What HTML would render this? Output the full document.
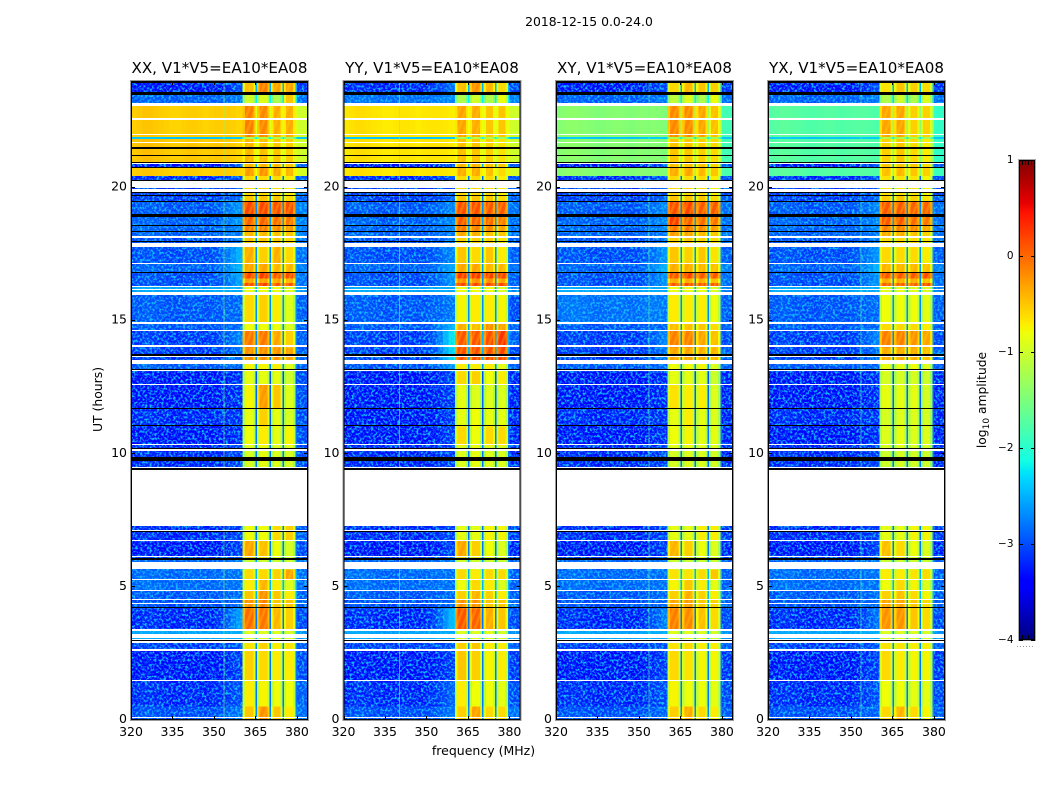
<!DOCTYPE html>
<html><head><meta charset="utf-8">
<style>
html,body{margin:0;padding:0;background:#fff}
svg{display:block}
text{font-family:"DejaVu Sans","Liberation Sans",sans-serif;fill:#000}
</style></head>
<body>
<svg id="chart" xmlns="http://www.w3.org/2000/svg" width="1050" height="800" viewBox="0 0 1050 800">
<defs>
<filter id="speckle" x="0" y="0" width="1" height="1" color-interpolation-filters="sRGB">
<feTurbulence type="fractalNoise" baseFrequency="0.42" numOctaves="2" seed="7" result="n"/>
<feColorMatrix in="n" type="matrix" values="0 0 0 0 0.08  0 0 0 0 0.75  0 0 0 0 1  3.6 0 0 0 -1.6" result="s"/>
<feComposite in="s" in2="SourceGraphic" operator="in"/>
</filter>
<pattern id="hatch" width="6" height="6" patternUnits="userSpaceOnUse" patternTransform="rotate(20)">
<rect width="2.5" height="6" fill="#ffe600" opacity="0.25"/>
</pattern>
</defs>
<text x="589" y="26" font-size="12.4" text-anchor="middle">2018-12-15 0.0-24.0</text>
<text x="483.5" y="755" font-size="12.5" text-anchor="middle">frequency (MHz)</text>
<text x="102" y="399.5" font-size="12.4" text-anchor="middle" transform="rotate(-90 102 399.5)">UT (hours)</text>
<text x="986" y="400" font-size="12.3" text-anchor="middle" transform="rotate(-90 986 400)">log<tspan font-size="9" dy="3">10</tspan><tspan dy="-3"> amplitude</tspan></text>
<g id="panels"></g>
<g id="colorbar"></g>
</svg>
<script>
/* ---- chart data ---- */
const panelTitles = ["XX, V1*V5=EA10*EA08","YY, V1*V5=EA10*EA08","XY, V1*V5=EA10*EA08","YX, V1*V5=EA10*EA08"];
const xTicks = [320,335,350,365,380];
const yTicks = [0,5,10,15,20];
const colorbarTicks = [1,0,-1,-2,-3,-4];

/* observation rows, UT hours */
const rowStartUT = [0,0.5,1.47,2.6,2.95,3.35,4.19,4.52,4.86,5.27,5.65,6.1,6.73,9.39,10.1,10.31,11.02,11.7,12.6,13.09,13.5,14,14.62,14.93,15.98,16.3,16.42,16.58,16.78,17.16,17.8,18.12,18.34,18.59,19,19.49,19.72,20.32,20.43,20.75,20.92,21.82,21.9,23.06,23.49];
const rowEndUT   = [0.5,1.47,2.6,2.95,3.35,4.19,4.52,4.86,5.27,5.65,6.1,6.73,7.29,10.1,10.31,11.02,11.7,12.6,13.09,13.5,14,14.62,14.93,15.98,16.3,16.42,16.58,16.78,17.16,17.8,18.12,18.34,18.59,19,19.49,19.72,20.32,20.43,20.75,20.92,21.82,21.9,23.06,23.49,24];

/* log10 amplitude per row: background, roll-off, band1, band gap, band2, band3, band4, tail */
const levelsXX = [
[-3.1,-2.8,-.5,-2.7,-.2,-.5,-.7,-2.9],[-3.3,-3,-.7,-2.8,-.75,-.8,-.8,-3],[-3.4,-3.1,-.55,-2.8,-.6,-.7,-.7,-3.1],
[-3.2,-3,-.65,-2.7,-.55,-.7,-.65,-3],[-2.6,-2.5,-.9,-2.5,-.9,-.9,-.95,-2.7],[-3.3,-2.5,0,-2.8,-.05,-.4,-.55,-3.1],
[-3.1,-2.9,-.2,-2.6,-.1,-.5,-.5,-3],[-3.05,-2.9,-.5,-2.5,-.2,-.5,-.7,-3],[-2.95,-2.85,-.7,-2.5,-.4,-.7,-.9,-2.9],
[-2.95,-2.85,-.6,-2.5,-.6,-.55,-.3,-2.9],[-3,-2.8,-1,-2.6,-1,-1,-1,-2.9],[-3.4,-3.1,-.3,-2.8,-.45,-.8,-.95,-3.1],
[-3.3,-3.1,-.8,-2.8,-.8,-.6,-.55,-3],[-3.3,-3.1,-.95,-2.8,-.85,-.9,-.95,-3.1],[-3.3,-3.1,-.9,-2.8,-.85,-.9,-.9,-3.1],
[-3.4,-3.2,-.8,-2.8,-.7,-.85,-.75,-3.1],[-3.3,-3.2,-.85,-2.9,-.55,-.85,-.95,-3.1],[-3.4,-3.2,-.75,-2.9,-.25,-.5,-.9,-3.1],
[-3.4,-3.2,-.85,-3,-.85,-.85,-1,-3.1],[-3.05,-2.9,-.75,-2.7,-.75,-.7,-.9,-3],[-3.2,-2.8,-.2,-2.7,-.2,-.2,-.3,-3],
[-3.2,-2.7,-.05,-2.7,-.05,-.3,-.55,-3],[-3.05,-2.9,-.8,-2.7,-.8,-.8,-.9,-3],[-3.05,-2.9,-.6,-2.7,-.55,-.7,-.9,-3],
[-2.6,-2.5,-.8,-2.5,-.8,-.8,-.9,-2.7],[-3.1,-2.5,.15,-2.7,.25,.1,.1,-2.9],[-3.1,-2.5,-.3,-2.7,-.3,-.3,-.4,-2.9],
[-3.1,-2.5,.2,-2.7,.25,.1,.15,-2.9],[-3,-2.4,-.3,-2.6,-.3,-.4,-.4,-2.8],[-3.1,-2.4,-.35,-2.7,-.55,-.35,-.6,-2.9],
[-3.1,-2.8,-.5,-2.7,-.5,-.5,-.6,-2.9],[-3,-2.8,-.4,-2.6,-.4,-.45,-.5,-2.8],[-3,-2.7,-.1,-2.6,-.1,-.15,-.25,-2.8],
[-3,-2.6,.05,-2.6,.05,0,-.05,-2.8],[-3.05,-2.6,.2,-2.7,.2,.15,.15,-2.8],[-3.2,-2.9,-.5,-2.8,-.5,-.5,-.6,-3],
[-3.2,-3,-.6,-2.8,-.6,-.6,-.7,-3],[-3.3,-3,-.6,-2.9,-.6,-.6,-.7,-3],[-.55,-.55,-.25,-.8,-.2,-.3,-.4,-.95],
[-3.4,-2.9,-.4,-2.5,-.4,-.4,-.5,-3],[-.52,-.55,-.4,-.9,-.45,-.5,-.55,-1],[-2.4,-2.3,-1.2,-2.2,-1.2,-1.2,-1.3,-2.4],
[-.55,-.55,-.1,-.9,-.15,-.35,-.35,-1],[-3,-2.8,-1,-2.2,-.9,-1.2,-.5,-2.9],[-3.4,-3,-.45,-2.5,-.1,-.3,-.3,-3.2]];

const levelsYY = [
[-3.1,-2.8,-.55,-2.7,-.3,-.6,-.6,-2.9],[-3.3,-2.9,-.7,-2.8,-.8,-.8,-.85,-3.1],[-3.4,-3.1,-.5,-2.8,-.55,-.75,-.7,-3.2],
[-3.2,-3,-.55,-2.7,-.5,-.7,-.7,-3],[-2.6,-2.5,-.9,-2.5,-.9,-.9,-.95,-2.7],[-3.3,-2.3,.12,-2.8,.05,-.35,-.5,-3.1],
[-3.1,-2.9,-.2,-2.6,-.2,-.5,-.5,-3],[-3.05,-2.9,-.55,-2.5,-.4,-.55,-.7,-3],[-2.95,-2.85,-.8,-2.5,-.6,-.7,-.9,-3],
[-2.95,-2.85,-.6,-2.5,-.7,-.6,-.6,-3],[-3,-2.8,-1,-2.6,-1,-1,-1,-3],[-3.4,-3.1,-.3,-2.8,-.55,-.8,-.9,-3.3],
[-3.3,-3.1,-.85,-2.8,-.85,-.75,-.75,-3.2],[-3.3,-3.1,-.9,-2.8,-.85,-.9,-.9,-3.3],[-3.3,-3.1,-.9,-2.8,-.85,-.9,-.9,-3.3],
[-3.4,-3.1,-.6,-2.8,-.8,-.6,-.6,-3.3],[-3.4,-3.1,-.85,-2.9,-.8,-.85,-.85,-3.3],[-3.4,-3.1,-.85,-2.9,-.9,-.9,-.9,-3.3],
[-3.4,-3.1,-.6,-3,-.55,-.8,-.7,-3.3],[-3.1,-2.6,-.7,-2.7,-.7,-.7,-.85,-3],[-3.2,-2.1,.15,-2.5,.15,.15,.2,-3.1],
[-3.2,-2,.12,-2.5,.12,.15,.3,-3],[-3.05,-2.4,-.35,-2.6,-.45,-.2,-.3,-3],[-3.05,-2.8,-.75,-2.7,-.7,-.7,-.75,-3.1],
[-2.6,-2.5,-.8,-2.5,-.8,-.8,-.9,-2.8],[-3.1,-2.6,.2,-2.7,.2,.2,.2,-3],[-3.1,-2.6,-.2,-2.7,-.2,-.2,-.3,-3],
[-3.1,-2.6,.25,-2.7,.25,.2,.2,-3],[-3,-2.5,-.3,-2.6,-.3,-.4,-.4,-2.9],[-3.1,-2.7,-.5,-2.7,-.6,-.5,-.7,-3],
[-3.1,-2.8,-.55,-2.7,-.55,-.55,-.65,-3],[-3,-2.8,-.3,-2.6,-.35,-.45,-.5,-2.9],[-3,-2.7,-.05,-2.6,-.1,-.15,-.3,-2.9],
[-3,-2.7,.1,-2.6,.05,0,-.1,-2.9],[-3.05,-2.7,.15,-2.7,.15,.1,.1,-2.9],[-3.2,-2.9,-.5,-2.8,-.5,-.5,-.6,-3],
[-3.2,-3,-.6,-2.8,-.6,-.6,-.7,-3],[-3.3,-3,-.6,-2.9,-.6,-.6,-.7,-3.1],[-.68,-.68,-.35,-.75,-.35,-.45,-.6,-.95],
[-3.4,-2.9,-.4,-2.5,-.4,-.45,-.5,-3],[-.68,-.68,-.45,-.8,-.5,-.55,-.65,-1],[-2.4,-2.3,-1.2,-2.2,-1.2,-1.2,-1.3,-2.4],
[-.68,-.68,-.3,-.8,-.35,-.5,-.5,-1],[-2.9,-2.7,-1.2,-2.2,-1,-1.2,-.8,-2.8],[-3.3,-2.8,-.45,-2.5,-.2,-.4,-.6,-3.1]];

const levelsXY = [
[-3.1,-2.9,-.55,-2.7,-.35,-.6,-.7,-3],[-3.3,-3,-.75,-2.8,-.8,-.8,-.85,-3.1],[-3.4,-3.1,-.6,-2.8,-.65,-.75,-.75,-3.2],
[-3.2,-3,-.65,-2.7,-.6,-.7,-.7,-3],[-2.6,-2.5,-.9,-2.5,-.9,-.9,-.95,-2.7],[-3.3,-2.7,-.1,-2.8,-.15,-.45,-.6,-3.1],
[-3.1,-2.9,-.3,-2.6,-.25,-.5,-.55,-3],[-3.05,-2.9,-.55,-2.5,-.35,-.55,-.7,-3],[-2.95,-2.85,-.75,-2.5,-.5,-.7,-.85,-3],
[-2.95,-2.85,-.65,-2.5,-.65,-.6,-.5,-3],[-3,-2.8,-1,-2.6,-1,-1,-1,-3],[-3.4,-3.1,-.4,-2.8,-.55,-.8,-.9,-3.3],
[-3.3,-3.1,-.85,-2.8,-.85,-.7,-.7,-3.2],[-3.3,-3.1,-.95,-2.8,-.9,-.9,-.95,-3.3],[-3.3,-3.1,-.9,-2.8,-.85,-.9,-.9,-3.3],
[-3.4,-3.2,-.8,-2.8,-.75,-.85,-.85,-3.3],[-3.3,-3.2,-.85,-2.9,-.7,-.85,-.9,-3.3],[-3.4,-3.2,-.65,-2.9,-.7,-.7,-.9,-3.3],
[-3.4,-3.2,-.85,-3,-.85,-.85,-1,-3.3],[-3.05,-2.9,-.8,-2.7,-.8,-.75,-.9,-3],[-3.2,-2.8,-.3,-2.7,-.3,-.35,-.4,-3],
[-3.2,-2.7,-.1,-2.7,-.1,-.3,-.45,-3.1],[-3.05,-2.9,-.45,-2.7,-.45,-.5,-.6,-3],[-2.9,-2.8,-.7,-2.7,-.7,-.7,-.8,-3],
[-2.6,-2.5,-.8,-2.5,-.8,-.8,-.9,-2.8],[-3.1,-2.6,.1,-2.7,.15,.1,.1,-2.9],[-3.1,-2.6,-.35,-2.7,-.35,-.35,-.45,-2.9],
[-3.1,-2.6,.1,-2.7,.2,.1,.1,-2.9],[-3,-2.4,-.35,-2.6,-.35,-.4,-.45,-2.8],[-3.1,-2.6,-.5,-2.7,-.55,-.5,-.65,-3],
[-3.1,-2.8,-.55,-2.7,-.5,-.55,-.6,-2.9],[-3,-2.8,-.25,-2.6,-.3,-.4,-.5,-2.9],[-3,-2.7,-.05,-2.6,-.05,-.15,-.25,-2.9],
[-3,-2.7,.25,-2.6,.05,0,-.05,-2.9],[-3.05,-2.7,.15,-2.7,.2,.1,.1,-2.9],[-3.2,-2.9,-.5,-2.8,-.5,-.5,-.6,-3],
[-3.2,-3,-.6,-2.8,-.6,-.6,-.7,-3.1],[-3.3,-3,-.6,-2.9,-.6,-.6,-.7,-3.1],[-1.45,-1.45,-.35,-1.3,-.3,-.4,-.5,-1.8],
[-3.4,-2.9,-.45,-2.5,-.45,-.45,-.55,-3],[-1.45,-1.45,-.5,-1.3,-.5,-.55,-.6,-1.85],[-2.4,-2.3,-1.2,-2.2,-1.2,-1.2,-1.3,-2.4],
[-1.45,-1.45,-.15,-1.3,-.15,-.3,-.45,-1.85],[-3,-2.8,-1.1,-2.2,-.9,-1.2,-.8,-2.9],[-3.4,-3,-.6,-2.5,-.4,-.5,-.55,-3.2]];

const levelsYX = [
[-3.1,-2.9,-.6,-2.7,-.4,-.6,-.75,-3],[-3.3,-3,-.8,-2.8,-.8,-.85,-.85,-3.1],[-3.4,-3.1,-.6,-2.8,-.7,-.75,-.75,-3.2],
[-3.2,-3,-.65,-2.7,-.65,-.7,-.7,-3],[-2.6,-2.5,-.9,-2.5,-.9,-.9,-.95,-2.7],[-3.3,-2.8,-.2,-2.8,-.2,-.5,-.6,-3.1],
[-3.1,-2.9,-.3,-2.6,-.3,-.5,-.6,-3],[-3.05,-2.9,-.55,-2.5,-.45,-.6,-.75,-3],[-2.95,-2.85,-.8,-2.5,-.6,-.75,-.9,-3],
[-2.95,-2.85,-.7,-2.5,-.7,-.65,-.6,-3],[-3,-2.8,-1,-2.6,-1,-1,-1,-3],[-3.4,-3.1,-.45,-2.8,-.6,-.8,-.9,-3.3],
[-3.3,-3.1,-.85,-2.8,-.85,-.75,-.75,-3.2],[-3.3,-3.1,-1,-2.8,-.95,-.95,-1,-3.3],[-3.3,-3.1,-.95,-2.8,-.9,-.95,-.95,-3.3],
[-3.4,-3.2,-.9,-2.8,-.85,-.9,-.9,-3.3],[-3.3,-3.2,-.95,-2.9,-.9,-.9,-.95,-3.3],[-3.4,-3.2,-.85,-2.9,-.85,-.85,-.95,-3.3],
[-3.4,-3.2,-.95,-3,-.95,-.95,-1,-3.3],[-3.05,-2.9,-.85,-2.7,-.85,-.8,-.9,-3],[-3.2,-2.8,-.35,-2.7,-.35,-.35,-.45,-3],
[-3.2,-2.7,-.1,-2.7,-.1,-.2,-.3,-3.1],[-3.05,-2.9,-.6,-2.7,-.6,-.6,-.7,-3],[-3.05,-2.9,-.8,-2.7,-.8,-.8,-.85,-3],
[-2.6,-2.5,-.85,-2.5,-.85,-.85,-.9,-2.8],[-3.1,-2.6,.05,-2.7,.05,.05,.15,-2.9],[-3.1,-2.6,-.35,-2.7,-.35,-.35,-.45,-2.9],
[-3.1,-2.6,.1,-2.7,.1,.1,.15,-2.9],[-3,-2.4,-.4,-2.6,-.4,-.4,-.45,-2.8],[-3.1,-2.6,-.6,-2.7,-.6,-.6,-.7,-3],
[-3.1,-2.8,-.6,-2.7,-.6,-.6,-.65,-2.9],[-3,-2.8,-.35,-2.6,-.35,-.45,-.55,-2.9],[-3,-2.7,-.1,-2.6,-.1,-.15,-.3,-2.9],
[-3,-2.7,.1,-2.6,.1,0,-.05,-2.9],[-3.05,-2.7,.1,-2.7,.1,.05,.05,-2.9],[-3.2,-2.9,-.55,-2.8,-.5,-.55,-.65,-3],
[-3.2,-3,-.65,-2.8,-.65,-.65,-.75,-3.1],[-3.3,-3,-.65,-2.9,-.65,-.65,-.75,-3.1],[-1.75,-1.75,-.45,-1.4,-.4,-.5,-.55,-1.9],
[-3.4,-2.9,-.5,-2.5,-.5,-.5,-.6,-3],[-1.75,-1.75,-.55,-1.4,-.5,-.6,-.7,-1.95],[-2.4,-2.3,-1.2,-2.2,-1.2,-1.2,-1.3,-2.4],
[-1.75,-1.75,-.3,-1.4,-.3,-.55,-.55,-1.95],[-3,-2.8,-1.2,-2.3,-1,-1.2,-.9,-2.9],[-3.4,-3,-.65,-2.5,-.5,-.55,-.6,-3.2]];

/* slow change of background level across frequency, 2 MHz bins from 320 MHz */
const bandpassOffset = [0,.03,.06,.06,.04,.02,0,-.02,-.02,0,.02,.02,0,-.02,0,.02,.02,.02,0,-.03,-.05];
/* how far each 2 MHz bin has risen towards the roll-off level */
const rolloffShare = [0,0,0,0,0,0,0,0,0,0,0,0,0,0,0,.05,.15,.35,.6,.85,1];
/* sub-band frequency limits, MHz */
const bandLow  = [360.4,365.6,370.7,375.3];
const bandHigh = [365.1,370.1,374.8,379.4];
const bandShoulderDrop = [-.35];
const tailLow = 380;
const freqMax = 384;
/* interference spikes, MHz per polarisation */
const rfiFreq = [353.4,340,353.4,353.4];
const rfiLevel = [-1.5,-1.7,-1.7,-1.7];
/* flagged (no data) intervals, UT hours */
const gapStart = [.07,1.46,2.61,2.91,3.02,3.08,3.36,4.37,4.52,4.85,5.26,5.67,6.11,6.71,7.11,7.27,9.47,10.12,10.31,12.58,13.09,13.37,13.65,14,14.62,14.89,15.96,16.14,16.26,17.14,17.76,18.12,19.84,19.98,20.9,21.66,21.96,22.53,23.05];
const gapEnd   = [.11,1.5,2.65,2.95,3.06,3.23,3.4,4.41,4.56,4.89,5.3,5.93,6.15,6.75,7.15,9.39,9.52,10.16,10.35,12.62,13.13,13.52,13.69,14.07,14.66,14.93,16.07,16.18,16.3,17.18,17.91,18.16,19.94,20.28,20.96,21.72,22.02,22.6,23.17];
/* zero-amplitude (black) intervals, UT hours */
const zeroStart = [2.98,4.19,6,7.05,9.39,9.73,10.17,11.03,11.68,13.16,13.69,16.8,17.94,18.32,18.57,18.91,19.47,19.69,19.8,20.26,20.73,20.92,21.18,21.46,23.49,23.94];
const zeroEnd   = [3.02,4.23,6.07,7.09,9.47,9.88,10.21,11.07,11.72,13.2,13.73,16.84,17.98,18.36,18.61,19,19.51,19.73,19.84,20.3,20.77,20.96,21.22,21.52,23.58,23.98];

/* ---- scales ---- */
const SVGNS = "http://www.w3.org/2000/svg";
const panelLeft = [131,343.5,556,768];
const plotWidth = 177, plotTop = 81, plotBottom = 720;
function xPos(panel,f){ return panelLeft[panel] + (f-320)/(freqMax-320)*plotWidth; }
function yPos(t){ return plotBottom - t/24*(plotBottom-plotTop); }
function barY(v){ return 640 - (v+4)/5*480; }
function lerp(stops,u){
  if(u<=stops[0][0]) return stops[0][1];
  for(let i=1;i<stops.length;i++){
    if(u<=stops[i][0]){
      const a=stops[i-1],b=stops[i];
      return a[1]+(b[1]-a[1])*(u-a[0])/(b[0]-a[0]);
    }
  }
  return stops[stops.length-1][1];
}
const jetR=[[0,0],[.35,0],[.66,1],[.89,1],[1,.5]];
const jetG=[[0,0],[.125,0],[.375,1],[.64,1],[.91,0],[1,0]];
const jetB=[[0,.5],[.11,1],[.34,1],[.65,0],[1,0]];
function colorOf(v){
  const u=Math.max(0,Math.min(1,(v+4)/5));
  return "rgb("+Math.round(255*lerp(jetR,u))+","+Math.round(255*lerp(jetG,u))+","+Math.round(255*lerp(jetB,u))+")";
}
function make(tag,attrs,parent,text){
  const el=document.createElementNS(SVGNS,tag);
  for(const k in attrs) el.setAttribute(k,attrs[k]);
  if(text!==undefined) el.textContent=text;
  parent.appendChild(el);
  return el;
}
function cell(parent,x0,x1,y0,y1,v){
  const el=make("rect",{x:x0,y:y0,width:x1-x0,height:y1-y0,fill:colorOf(v),"shape-rendering":"crispEdges"},parent);
  
  
  return el;
}
const allLevels=[levelsXX,levelsYY,levelsXY,levelsYX];
const rootPanels=document.getElementById("panels");

panelTitles.forEach(function(title,p){
  const g=make("g",{},rootPanels);
  
  
  const levels=allLevels[p];
  const X=function(f){ return xPos(p,f); };

  rowStartUT.forEach(function(t0,r){
    const y0=yPos(rowEndUT[r]), y1=yPos(t0), L=levels[r];
    /* background bins */
    bandpassOffset.forEach(function(off,b){
      const f0=320+2*b, f1=(b===bandpassOffset.length-1)?bandLow[0]:f0+2;
      const base=L[0]+(L[1]-L[0])*rolloffShare[b];
      cell(g,X(f0),X(f1),y0,y1,base+off);
    });
    /* sub-bands with softer shoulders, and gaps */
    const bandIdx=[2,4,5,6];
    bandLow.forEach(function(f0,b){
      const f1=bandHigh[b], s=L[bandIdx[b]];
      cell(g,X(f0),X(f0+.8),y0,y1,s+bandShoulderDrop[0]);
      cell(g,X(f0+.8),X(f1-.8),y0,y1,s);
      cell(g,X(f1-.8),X(f1),y0,y1,s+bandShoulderDrop[0]);
      if(s>-.5){
        const hatchEl=make("rect",{x:X(f0),y:y0,width:X(f1)-X(f0),height:y1-y0,fill:"url(#hatch)"},g);
        
        
      }
      const next=b<3?bandLow[b+1]:tailLow;
      cell(g,X(f1),X(next),y0,y1,L[3]);
    });
    cell(g,X(tailLow),X(freqMax),y0,y1,L[7]);
    /* receiver noise speckle on faint rows */
    if(L[0]<-2){
      const sp=make("rect",{x:X(320),y:y0,width:X(bandLow[0])-X(320),height:y1-y0,fill:"#fff",filter:"url(#speckle)"},g);
      
      
      const sp2=make("rect",{x:X(tailLow),y:y0,width:X(freqMax)-X(tailLow),height:y1-y0,fill:"#fff",filter:"url(#speckle)"},g);
      
      
    }
  });

  /* interference line */
  const rfi=make("rect",{x:X(rfiFreq[p]),y:plotTop,width:1,height:plotBottom-plotTop,fill:colorOf(rfiLevel[p]),opacity:.6,"shape-rendering":"crispEdges"},g);
  
  

  gapStart.forEach(function(t0,i){
    const y0=Math.round(yPos(gapEnd[i])), y1=Math.round(yPos(t0));
    const el=make("rect",{x:X(320),y:y0,width:plotWidth,height:Math.max(1,y1-y0),fill:"#fff","shape-rendering":"crispEdges"},g);
    
    
  });
  zeroStart.forEach(function(t0,i){
    const y0=Math.round(yPos(zeroEnd[i])), y1=Math.round(yPos(t0));
    const el=make("rect",{x:X(320),y:y0,width:plotWidth,height:Math.max(1,y1-y0),fill:"#000","shape-rendering":"crispEdges"},g);
    
    
  });

  /* frame */
  const outer=make("rect",{x:X(320)-.5,y:plotTop-.5,width:plotWidth+1,height:plotBottom-plotTop+1,fill:"none",stroke:"#999","stroke-width":1},g);
  
  
  const frame=make("rect",{x:X(320)+.5,y:plotTop+.5,width:plotWidth-1,height:plotBottom-plotTop-1,fill:"none",stroke:"#000","stroke-width":1},g);
  
  

  /* ticks */
  xTicks.forEach(function(v){
    const x=Math.round(X(v))+.5;
    const bt=make("path",{d:"M"+x+" "+plotBottom+"v-4M"+x+" "+plotTop+"v4",stroke:"#000","stroke-width":1,fill:"none"},g);
    
    
    const lb=make("text",{x:X(v),y:plotBottom+16,"font-size":12.5,"text-anchor":"middle"},g,String(v));
    
    
  });
  yTicks.forEach(function(v){
    const y=Math.round(yPos(v))-.5;
    const L0=X(320), R0=L0+plotWidth;
    const tk=make("path",{d:"M"+L0+" "+y+"h4M"+R0+" "+y+"h-4",stroke:"#000","stroke-width":1,fill:"none"},g);
    
    
    const lb=make("text",{x:L0-4,y:yPos(v)+3,"font-size":12.5,"text-anchor":"end"},g,String(v));
    
    
  });

  const tt=make("text",{x:X(320)+plotWidth/2,y:73,"font-size":15.1,"text-anchor":"middle"},g,title);
  
  
});

/* ---- colorbar ---- */
const cb=document.getElementById("colorbar");
for(let v=1;v>-4;v-=0.02){
  const seg=make("rect",{x:1019,y:barY(v),width:16,height:barY(v-0.02)-barY(v)+.5,fill:colorOf(v-0.01),"shape-rendering":"crispEdges"},cb);
  
  
}
const cbShadow=make("rect",{x:1018.5,y:159.5,width:17,height:481,fill:"none",stroke:"#aaa"},cb);


const cbFrame=make("rect",{x:1019.5,y:160.5,width:15,height:479,fill:"none",stroke:"#000"},cb);


colorbarTicks.forEach(function(v){
  const y=Math.round(barY(v))+.5;
  const t=make("path",{d:"M1019 "+y+"h4M1035 "+y+"h-4",stroke:"#000",fill:"none"},cb);
  
  
  const lb=make("text",{x:1013.5,y:barY(v)+3,"font-size":10.5,"text-anchor":"end",fill:"#222"},cb,(v<0?"\u2212":"")+Math.abs(v));
  
  
});
[1022,1025,1028,1031].forEach(function(x){
  const a=make("path",{d:"M"+(x+.5)+" 160v5M"+(x+.5)+" 640v-5",stroke:"#000",fill:"none"},cb);
  
  
});
const dots=make("path",{d:"M1017 646.5H1035",stroke:"#999","stroke-width":1,"stroke-dasharray":"1 2",fill:"none"},cb);


</script>
</body></html>
